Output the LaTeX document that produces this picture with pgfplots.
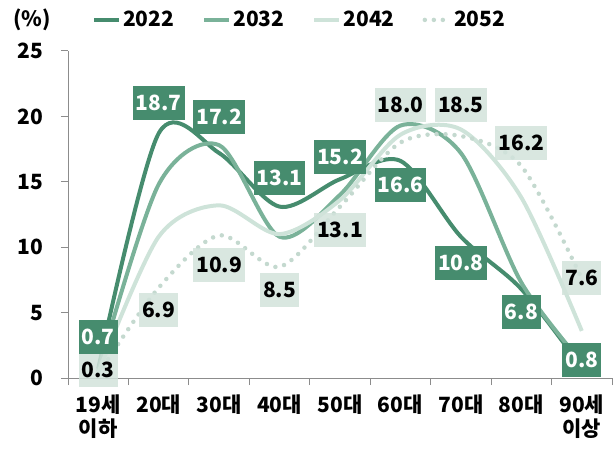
\documentclass[border=0pt]{standalone}
\usepackage{fontspec}
\setmainfont{Noto Sans CJK KR}
\usepackage{pgfplots}
\usepackage{pgfplotstable}
\pgfplotsset{compat=1.18}

\definecolor{c22}{RGB}{70,140,110}
\definecolor{c32}{RGB}{122,178,153}
\definecolor{c42}{RGB}{206,227,217}
\definecolor{c52}{RGB}{196,217,207}
\definecolor{lbox}{RGB}{210,227,219}
\definecolor{axgray}{RGB}{140,140,140}
\newcommand\f{\fontsize{21bp}{24bp}\selectfont\bfseries}

% share by age group (%)
\pgfplotstableread{
x y22 y32 y42 y52
0 0.7 0.5 0.4 0.3
1 18.7 14.8 10.8 6.9
2 17.2 17.8 13.2 10.9
3 13.1 10.8 11.0 8.5
4 15.2 14.0 13.6 13.1
5 16.6 19.3 18.6 18.0
6 10.8 17.2 19.0 18.5
7 6.8 7.3 13.8 16.2
8 0.8 1.2 3.6 7.6
}\data

% label positions (x, label centre, text)
\pgfplotstableread{
x y t
0 3.13 0.7
1 21.0 18.7
2 19.95 17.2
3 15.3 13.1
4 16.9 15.2
5 14.75 16.6
6 8.8 10.8
7 5.05 6.8
8 1.38 0.8
}\labA
\pgfplotstableread{
x y t
0 0.6 0.3
1 5.2 6.9
2 8.64 10.9
3 6.73 8.5
4 11.3 13.1
5 20.9 18.0
6 20.9 18.5
7 18.0 16.2
8 7.65 7.6
}\labB

\begin{document}
\begin{tikzpicture}
\begin{axis}[name=ax, at={(0,0)}, anchor=south west,
  scale only axis, width=544bp, height=327bp,
  xmin=-0.5, xmax=8.5, ymin=0, ymax=25,
  axis x line*=bottom, axis y line*=left,
  axis line style={draw=axgray, line width=1bp},
  tick style={draw=axgray, line width=1bp},
  tick align=outside, major tick length=7bp,
  ytick={0,5,...,25},
  xtick={-0.5,0.5,...,8.5},
  x tick label as interval,
  xticklabels={{19세\\이하},20대,30대,40대,50대,60대,70대,80대,{90세\\이상}},
  x tick label style={align=center, font=\f, yshift=-6bp},
  y tick label style={font=\f, xshift=-14bp},
  /pgf/number format/assume math mode=true,
  legend style={draw=none, fill=none, at={(0.044,1.095)}, anchor=west,
    legend columns=4, font=\f, inner sep=0pt,
    nodes={inner xsep=2bp},
    /tikz/every even column/.append style={column sep=26bp}},
  legend image code/.code={\draw[#1] (0bp,0bp) -- (25bp,0bp);},
]
\addplot[c22, line width=4bp, smooth] table[x=x, y=y22] {\data};
\addlegendentry{2022}
\addplot[c32, line width=4bp, smooth] table[x=x, y=y32] {\data};
\addlegendentry{2032}
\addplot[c42, line width=4bp, smooth] table[x=x, y=y42] {\data};
\addlegendentry{2042}
\addplot[c52, line width=4.5bp, smooth, line cap=round, dash pattern=on 0bp off 9bp] table[x=x, y=y52] {\data};
\addlegendentry{2052}

\addplot[forget plot, only marks, mark=none, nodes near coords,
  point meta=explicit symbolic,
  nodes near coords align={anchor=center},
  every node near coord/.append style={fill=lbox, fill opacity=0.85, text opacity=1,
    text=black, font=\f, inner xsep=3bp, inner ysep=0bp,
    minimum height=34bp, text height=15bp, text depth=0bp}]
  table[x=x, y=y, meta=t] {\labB};
\addplot[forget plot, only marks, mark=none, nodes near coords,
  point meta=explicit symbolic,
  nodes near coords align={anchor=center},
  every node near coord/.append style={fill=c22, text=white, font=\f,
    inner xsep=3bp, inner ysep=0bp,
    minimum height=34bp, text height=15bp, text depth=0bp}]
  table[x=x, y=y, meta=t] {\labA};
\end{axis}
\node[font=\f, xshift=-36bp, yshift=31bp] at (ax.north west) {(\%)};
\pgfresetboundingbox
\path[use as bounding box] ([xshift=-68bp, yshift=-72bp]ax.south west) rectangle ++(616bp,450bp);
\end{tikzpicture}
\end{document}
